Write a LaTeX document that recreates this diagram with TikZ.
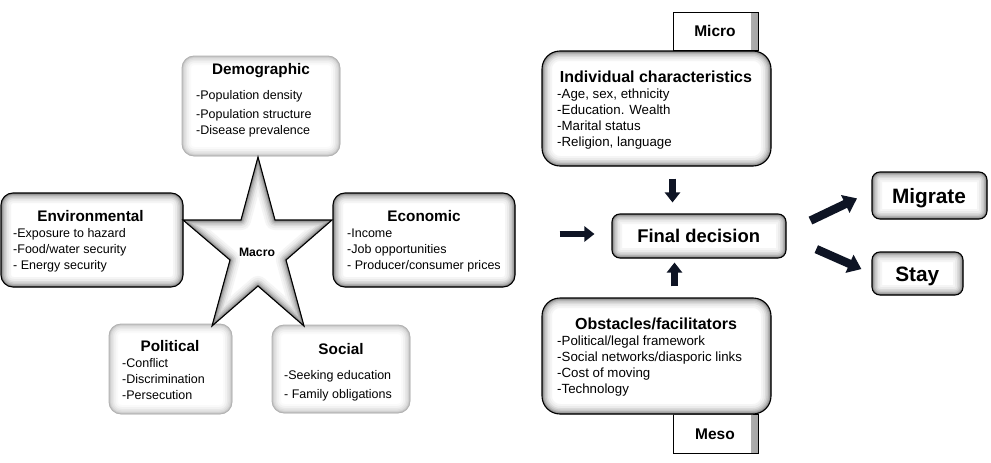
\documentclass[tikz,border=0pt]{standalone}
\usepackage{fontspec}
\setmainfont{Liberation Sans}
\usetikzlibrary{arrows.meta,calc}
\definecolor{arrowc}{RGB}{14,20,36}
\newcommand\itemlines[1]{\vtop{\baselineskip=16pt\lineskiplimit=-20pt\lineskip=0pt\halign{##\hfil\cr#1\crcr}}}
\def\starpath{(258,157) -- (275,220) -- (332,220) -- (286,260) -- (304,326) -- (258,286) -- (212,326) -- (230,260) -- (183,220) -- (241,220) -- cycle}
\tikzset{
  glowdark/.style={path picture={\foreach \w/\c in {20/4,16/8,12/14,9/21,6/30,3.5/40,1.8/50}{\draw[line width=\w pt,draw=black!\c,rounded corners=#1](path picture bounding box.south west) rectangle (path picture bounding box.north east);}}},
  glowlight/.style={path picture={\foreach \w/\c in {18/2,14/5,10/9,7/13,4/18,2/24}{\draw[line width=\w pt,draw=black!\c,rounded corners=#1](path picture bounding box.south west) rectangle (path picture bounding box.north east);}}},
  darkbox/.style={draw=black, line width=1.1pt, fill=white, rounded corners=#1, inner sep=0pt, glowdark=#1},
  lightbox/.style={draw=black!30, line width=0.8pt, fill=white, rounded corners=#1, inner sep=0pt, glowlight=#1},
  levelbox/.style={draw=black, line width=1pt, fill=white, inner sep=0pt,
    path picture={\shade[left color=white, right color=black!35] ([xshift=-7pt]path picture bounding box.north east) rectangle (path picture bounding box.south east);}},
  ttl/.style={font=\bfseries\fontsize{15.3}{18}\selectfont, anchor=base, inner sep=0pt},
  ttlr/.style={font=\bfseries\fontsize{16}{18}\selectfont, anchor=base, inner sep=0pt},
  itm/.style={font=\fontsize{12.5}{16}\selectfont, anchor=base west, inner sep=0pt},
  itmr/.style={font=\fontsize{13.3}{16}\selectfont, anchor=base west, inner sep=0pt},
  bigarrow/.style={draw=arrowc, line width=6.5pt, -{Triangle[length=10pt,width=15pt]}},
  diagarrow/.style={draw=arrowc, line width=8.5pt, -{Triangle[length=13pt,width=19pt]}},
}
\begin{document}
\begin{tikzpicture}[x=1pt,y=-1pt]
\useasboundingbox[fill=white] (0,0) rectangle (991,463);

% level boxes (behind)
\node[levelbox, minimum width=85pt, minimum height=38pt] (micro) at (715.5,31) {};
\node[levelbox, minimum width=85pt, minimum height=39pt] (meso) at (715.5,433.5) {};

% boxes
\node[lightbox=12pt, minimum width=158pt, minimum height=100pt] (demo) at (261,106) {};
\node[darkbox=12pt, minimum width=182pt, minimum height=94pt] (env) at (92,240) {};
\node[darkbox=12pt, minimum width=182pt, minimum height=94pt] (eco) at (424,240) {};
\node[lightbox=12pt, minimum width=123pt, minimum height=90pt] (pol) at (170.5,369) {};
\node[lightbox=12pt, minimum width=138pt, minimum height=88pt] (soc) at (341,369) {};
\node[darkbox=18pt, minimum width=229pt, minimum height=115pt] (indiv) at (656.5,108.5) {};
\node[darkbox=18pt, minimum width=229pt, minimum height=116pt] (obst) at (656.5,356) {};
\node[darkbox=8pt, minimum width=174pt, minimum height=44pt] (final) at (699,236) {};
\node[darkbox=8pt, minimum width=115pt, minimum height=47pt] (migrate) at (929.5,195.5) {};
\node[darkbox=8pt, minimum width=91pt, minimum height=43pt] (stay) at (917.5,273.5) {};

% star
\fill[white] \starpath;
\begin{scope}
  \clip \starpath;
  \foreach \w/\c in {20/4,16/8,12/14,9/21,6/30,3.5/40,1.8/50}{\draw[line width=\w pt,draw=black!\c,line join=round] \starpath;}
\end{scope}
\draw[line width=1.1pt, line join=miter] \starpath;
\node[font=\bfseries\fontsize{12.2}{14}\selectfont, anchor=base, inner sep=0pt] (macro) at (257,256) {Macro};

% texts
\node[ttl] (demot) at (261,74) {Demographic};
\node[itm] (demoi) at (196,99) {\itemlines{-Population density\cr\noalign{\vskip3pt}-Population structure\cr -Disease prevalence}};
\node[ttl] (envt) at (90.5,221.5) {Environmental};
\node[itm] (envi) at (13,237.5) {\itemlines{-Exposure to hazard\cr -Food/water security\cr - Energy security}};
\node[ttl] (ecot) at (424,221.5) {Economic};
\node[itm] (ecoi) at (347,237.5) {\itemlines{-Income\cr -Job opportunities\cr - Producer/consumer prices}};
\node[ttl] (polt) at (170,351.5) {Political};
\node[itm] (poli) at (122,367) {\itemlines{-Conflict\cr -Discrimination\cr -Persecution}};
\node[ttl] (soct) at (341,354) {Social};
\node[itm] (soci) at (284,379) {\itemlines{-Seeking education\cr\noalign{\vskip3.5pt} - Family obligations}};
\node[ttlr] (indivt) at (656,82) {Individual characteristics};
\node[itmr] (indivi) at (557,98) {\itemlines{-Age, sex, ethnicity\cr -Education. Wealth\cr -Marital status\cr -Religion, language}};
\node[ttlr] (obstt) at (656,329.5) {Obstacles/facilitators};
\node[itmr] (obsti) at (557,345.5) {\itemlines{-Political/legal framework\cr -Social networks/diasporic links\cr -Cost of moving\cr -Technology}};
\node[ttl, font=\bfseries\fontsize{15.5}{18}\selectfont] (microt) at (715,36.7) {Micro};
\node[ttl, font=\bfseries\fontsize{15.5}{18}\selectfont] (mesot) at (715,439.7) {Meso};
\node[ttl, font=\bfseries\fontsize{18.4}{22}\selectfont] (finalt) at (698.7,242.6) {Final decision};
\node[ttl, font=\bfseries\fontsize{20.8}{24}\selectfont] (migratet) at (929,203) {Migrate};
\node[ttl, font=\bfseries\fontsize{20.8}{24}\selectfont] (stayt) at (917.3,281.5) {Stay};

% arrows
\draw[bigarrow, shorten <=44pt, shorten >=17pt] (eco.east |- 0,234) -- (final.west |- 0,234);
\draw[bigarrow, shorten <=12pt, shorten >=11pt] (indiv.south -| micro.west) -- (final.north -| micro.west);
\draw[bigarrow, shorten <=11pt, shorten >=4pt] ([xshift=2pt]obst.north -| meso.west) -- ([xshift=2pt]final.south -| meso.west);
\draw[diagarrow, shorten <=26.5pt, shorten >=16pt] ([yshift=4pt]final.east) -- ([yshift=4pt]migrate.west);
\draw[diagarrow, shorten <=32.5pt, shorten >=11pt] (final.east) -- (stay.west);
\end{tikzpicture}
\end{document}
